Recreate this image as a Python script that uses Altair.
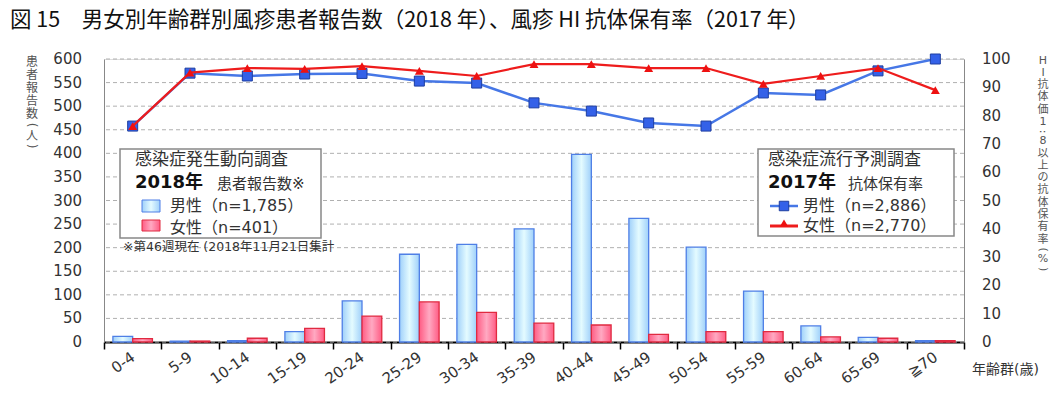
import altair as alt
import pandas as pd

ages = ["0-4", "5-9", "10-14", "15-19", "20-24", "25-29", "30-34", "35-39",
        "40-44", "45-49", "50-54", "55-59", "60-64", "65-69", "≧70"]
male_cases = [12, 2, 3, 22, 87, 186, 207, 240, 398, 262, 201, 108, 34, 10, 3]
female_cases = [7, 2, 8, 29, 55, 85, 63, 40, 36, 16, 22, 22, 11, 8, 3]
male_hi = [76.3, 95.0, 94.0, 94.7, 94.9, 92.2, 91.5, 84.5, 81.6, 77.4, 76.3, 88.0, 87.3, 95.8, 100.0]
female_hi = [76.3, 95.2, 96.8, 96.5, 97.5, 95.8, 94.0, 98.2, 98.2, 96.8, 96.8, 91.2, 94.0, 96.8, 89.0]
sexes = ["男性", "女性"]
left_ticks = list(range(0, 601, 50))
right_ticks = list(range(0, 101, 10))

title_text = "図 15　男女別年齢群別風疹患者報告数（2018 年）、風疹 HI 抗体保有率（2017 年）"
left_title_chars = ["患", "者", "報", "告", "数", "(", "人", ")"]
right_title_chars = ["H", "I", "抗", "体", "価", "1", ":", "8", "以", "上", "の",
                     "抗", "体", "保", "有", "率", "(", "%", ")"]

JP = "Noto Sans CJK JP"
LAT = "DejaVu Sans"
MIX = "DejaVu Sans, Noto Sans CJK JP"

male_df = pd.DataFrame({"age": ages, "sex": "男性", "cases": male_cases})
female_df = pd.DataFrame({"age": ages, "sex": "女性", "cases": female_cases})
mhi_df = pd.DataFrame({"age": ages, "rate": male_hi})
fhi_df = pd.DataFrame({"age": ages, "rate": female_hi})
lt_df = pd.DataFrame({"cases": left_ticks})
rt_df = pd.DataFrame({"rate": right_ticks})

male_grad = alt.LinearGradient(
    gradient="linear", x1=0, x2=1, y1=0, y2=0,
    stops=[alt.GradientStop(color="#9fd0fa", offset=0),
           alt.GradientStop(color="#e4fbff", offset=0.5),
           alt.GradientStop(color="#9fd0fa", offset=1)])
female_grad = alt.LinearGradient(
    gradient="linear", x1=0, x2=1, y1=0, y2=0,
    stops=[alt.GradientStop(color="#ff5c84", offset=0),
           alt.GradientStop(color="#ffa9c2", offset=0.5),
           alt.GradientStop(color="#ff5c84", offset=1)])

x_enc = alt.X("age:N", sort=ages,
              scale=alt.Scale(domain=ages, paddingInner=0, paddingOuter=0),
              axis=alt.Axis(title=None, labelAngle=-35, labelAlign="right",
                            labelBaseline="middle", labelPadding=6,
                            labelFont=LAT, labelFontSize=15, labelColor="#333",
                            labelOverlap=False,
                            tickBand="extent", ticks=True, tickColor="black",
                            tickSize=7, tickWidth=1.5, domainColor="black",
                            domainWidth=2, grid=False))
xoff = alt.XOffset("sex:N", scale=alt.Scale(domain=sexes, paddingOuter=0.45, paddingInner=0))

left_scale = alt.Scale(domain=[0, 600], nice=False)
left_axis = alt.Axis(title=None, labels=False, grid=False, ticks=False, domainColor="#888")
y_left = alt.Y("cases:Q", scale=left_scale, axis=left_axis)

# grid lines and tick labels of the left axis, placed through the y scale
grid_l = alt.Chart(lt_df).mark_rule(color="#b0b0b0", strokeDash=[4, 3], strokeWidth=1).encode(
    y=y_left)
labels_l = alt.Chart(lt_df).mark_text(align="right", baseline="middle", font=LAT, fontSize=15,
                                      color="#333").encode(
    x=alt.value(-22), y=y_left, text="cases:Q")

bar_m = alt.Chart(male_df).mark_bar(fill=male_grad, stroke="#4f7fe6", strokeWidth=1.3).encode(
    x=x_enc, xOffset=xoff, y=y_left)
bar_f = alt.Chart(female_df).mark_bar(fill=female_grad, stroke="#e02a40", strokeWidth=1.3).encode(
    x=x_enc, xOffset=xoff, y=y_left)
bars = alt.layer(grid_l, labels_l, bar_m, bar_f)

right_scale = alt.Scale(domain=[0, 100], nice=False)
right_axis = alt.Axis(title=None, orient="right", labels=False, grid=False, ticks=False,
                      domainColor="#888")
y_right = alt.Y("rate:Q", scale=right_scale, axis=right_axis)

labels_r = alt.Chart(rt_df).mark_text(align="left", baseline="middle", font=LAT, fontSize=15,
                                      color="#333").encode(
    x=alt.value(878), y=y_right, text="rate:Q")
line_m = alt.Chart(mhi_df).mark_line(color="#4677e6", strokeWidth=2.5).encode(x=x_enc, y=y_right)
pt_m = alt.Chart(mhi_df).mark_point(shape="square", filled=True, size=100, fill="#3461e8",
                                    stroke="#1f3fa0", strokeWidth=1, opacity=1).encode(x=x_enc, y=y_right)
line_f = alt.Chart(fhi_df).mark_line(color="#ee1c1c", strokeWidth=2.2).encode(x=x_enc, y=y_right)
pt_f = alt.Chart(fhi_df).mark_point(shape="triangle-up", filled=True, size=80, fill="#ee1111",
                                    opacity=1).encode(x=x_enc, y=y_right)
lines = alt.layer(labels_r, line_m, pt_m, line_f, pt_f)

one = alt.Data(values=[{}])


def txt(s, x, y, size=16, weight="normal", font=MIX, color="#333", align="left",
        baseline="middle", **kw):
    return alt.Chart(one).mark_text(text=s, font=font, fontSize=size, fontWeight=weight,
                                    color=color, align=align, baseline=baseline, **kw).encode(
        x=alt.value(x), y=alt.value(y))


def box(x1, x2, y1, y2, fill="white", stroke="#888", sw=1.5):
    return alt.Chart(one).mark_rect(fill=fill, stroke=stroke, strokeWidth=sw).encode(
        x=alt.value(x1), x2=alt.value(x2), y=alt.value(y1), y2=alt.value(y2))


def vertical_title(chars, x, top, size, cjk_step, latin_step, rot_step):
    """Stack characters vertically (annotation layout in plot pixels)."""
    out = []
    y = top
    for ch in chars:
        rot = ch in "():"
        if rot:
            step = rot_step
        elif ch.isascii():
            step = latin_step
        else:
            step = cjk_step
        cy = y + step / 2
        out.append(txt(ch, x, cy, size=size, color="#555", align="center",
                       angle=90 if rot else 0))
        y += step
    return out


annots = [
    txt(title_text, -94, -38, size=21.5, font=JP, color="#111"),
    *vertical_title(left_title_chars, -72, -4, 12, 13.2, 11.5, 8),
    *vertical_title(right_title_chars, 939, -4, 11, 12.3, 12, 7.5),
    txt("年齢群(歳)", 868, 311, size=14),
    # left legend
    box(16, 217, 90, 179),
    txt("感染症発生動向調査", 31, 101, size=17),
    txt("2018年", 31, 124, size=18, weight="bold", color="#111"),
    txt("患者報告数※", 113, 125, size=15),
    alt.Chart(one).mark_rect(fill=male_grad, stroke="#4f7fe6", strokeWidth=1).encode(
        x=alt.value(38), x2=alt.value(56), y=alt.value(141), y2=alt.value(153)),
    txt("男性（n=1,785）", 66, 147, size=16),
    alt.Chart(one).mark_rect(fill=female_grad, stroke="#e02a40", strokeWidth=1).encode(
        x=alt.value(38), x2=alt.value(56), y=alt.value(161), y2=alt.value(172)),
    txt("女性（n=401）", 66, 169, size=16),
    txt("※第46週現在 (2018年11月21日集計", 19, 188, size=12.5),
    # right legend
    box(654, 850, 90, 177),
    txt("感染症流行予測調査", 664, 101, size=17),
    txt("2017年", 664, 124, size=18, weight="bold", color="#111"),
    txt("抗体保有率", 744, 125, size=15),
    alt.Chart(one).mark_rule(color="#4677e6", strokeWidth=2.5).encode(
        x=alt.value(666), x2=alt.value(694), y=alt.value(147)),
    alt.Chart(one).mark_point(shape="square", filled=True, size=90, fill="#3461e8",
                              stroke="#1f3fa0", strokeWidth=1, opacity=1).encode(
        x=alt.value(680), y=alt.value(147)),
    txt("男性（n=2,886）", 699, 147, size=16),
    alt.Chart(one).mark_rule(color="#ee1c1c", strokeWidth=3).encode(
        x=alt.value(666), x2=alt.value(694), y=alt.value(167)),
    alt.Chart(one).mark_point(shape="triangle-up", filled=True, size=70, fill="#ee1111",
                              opacity=1).encode(x=alt.value(680), y=alt.value(164)),
    txt("女性（n=2,770）", 699, 167, size=16),
]

chart = alt.layer(bars, lines, *annots).resolve_scale(y="independent").properties(
    width=860, height=283,
    autosize=alt.AutoSizeParams(type="none"),
    padding={"left": 96, "top": 51, "right": 88, "bottom": 46},
).configure_view(stroke="#888", strokeWidth=1).configure(background="white")

chart.save("out.html", embed_options={"renderer": "svg", "actions": False})
